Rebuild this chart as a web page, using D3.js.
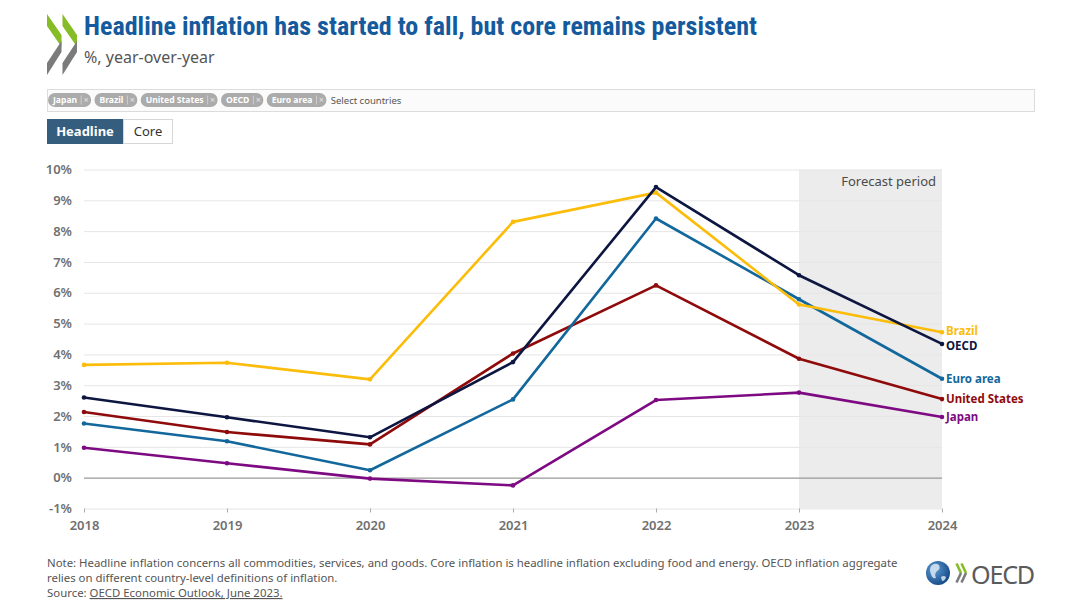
<!DOCTYPE html>
<html>
<head>
<meta charset="utf-8">
<script src="https://cdn.jsdelivr.net/npm/d3@7"></script>
<style>
  body { margin: 0; background: #fff; }
  svg { display: block; font-family: "Noto Sans", "Open Sans", sans-serif; }
</style>
</head>
<body>
<svg id="chart" width="1080" height="608"></svg>
<script>
// data
var years = [2018, 2019, 2020, 2021, 2022, 2023, 2024];
var brazil = [3.66, 3.73, 3.19, 8.30, 9.25, 5.62, 4.72];
var oecd = [2.60, 1.96, 1.31, 3.75, 9.43, 6.57, 4.34];
var euroArea = [1.76, 1.18, 0.24, 2.54, 8.41, 5.79, 3.21];
var unitedStates = [2.13, 1.48, 1.08, 4.03, 6.24, 3.86, 2.55];
var japan = [0.97, 0.47, -0.03, -0.25, 2.52, 2.76, 1.97];
var yTicks = [-1, 0, 1, 2, 3, 4, 5, 6, 7, 8, 9, 10];
var forecastStart = 2023;
var chips = ["Japan", "Brazil", "United States", "OECD", "Euro area"];

// label nudges keep Brazil and OECD end labels apart
var series = [
    {name: "Japan", values: japan, color: "#7d0a82", nudge: 0},
    {name: "United States", values: unitedStates, color: "#8f0a0a", nudge: 0},
    {name: "Euro area", values: euroArea, color: "#12679c", nudge: 0},
    {name: "Brazil", values: brazil, color: "#fbbc0a", nudge: -1.5},
    {name: "OECD", values: oecd, color: "#0d1640", nudge: 1.5}
]

var svg = d3.select("#chart");

// ---- header: logo chevrons
function chevron(x0) {
    var g = svg.append("g");
    g.append("path")
        .attr("d", `M${x0},14 L${x0 + 14.5},35 L${x0 + 14.5},47 L${x0},26 Z`)
        .attr("fill", "#86bc25");
    g.append("path")
        .attr("d", `M${x0 + 14.5},41 L${x0 + 14.5},52 L${x0},75 L${x0},63 Z`)
        .attr("fill", "#7b7b7b");
}
chevron(47);
chevron(62.5);

svg.append("text")
    .attr("x", 84).attr("y", 35)
    .style("font-family", "'Roboto', 'Noto Sans', sans-serif")
    .style("font-weight", "bold")
    .style("font-stretch", "condensed")
    .style("font-size", "26px")
    .attr("fill", "#155a9c")
    .attr("textLength", 673)
    .attr("lengthAdjust", "spacingAndGlyphs")
    .text("Headline inflation has started to fall, but core remains persistent");

svg.append("text")
    .attr("x", 84).attr("y", 63)
    .style("font-size", "16px")
    .attr("fill", "#555")
    .text("%, year-over-year");

// ---- country filter box
svg.append("rect")
    .attr("x", 47.5).attr("y", 89.5)
    .attr("width", 987).attr("height", 22)
    .attr("fill", "#fbfbfb")
    .attr("stroke", "#dcdcdc");

var cx = 48;
chips.forEach(function(c) {
    var g = svg.append("g");
    var label = g.append("text")
        .attr("x", cx + 5).attr("y", 103.3)
        .style("font-size", "8.6px")
        .style("font-weight", "bold")
        .attr("fill", "#fff")
        .text(c);
    var w = label.node().getComputedTextLength();
    g.insert("rect", "text")
        .attr("x", cx).attr("y", 93)
        .attr("width", w + 19).attr("height", 14)
        .attr("rx", 7)
        .attr("fill", "#ababab");
    g.append("line")
        .attr("x1", cx + w + 9).attr("x2", cx + w + 9)
        .attr("y1", 95.5).attr("y2", 104.5)
        .attr("stroke", "#cfcfcf");
    g.append("text")
        .attr("x", cx + w + 14).attr("y", 103.3)
        .attr("text-anchor", "middle")
        .style("font-size", "9px")
        .attr("fill", "#e4e4e4")
        .text("×");
    cx += w + 22.3;
});
svg.append("text")
    .attr("x", cx + 1).attr("y", 103.5)
    .style("font-size", "9.5px")
    .attr("fill", "#555")
    .text("Select countries");

// ---- Headline / Core toggle
svg.append("rect")
    .attr("x", 123.5).attr("y", 119.5).attr("width", 49).attr("height", 24)
    .attr("fill", "#fff").attr("stroke", "#d6d6d6");
svg.append("rect")
    .attr("x", 47).attr("y", 119).attr("width", 76).attr("height", 25)
    .attr("fill", "#355d7e");
svg.append("text")
    .attr("x", 85).attr("y", 136).attr("text-anchor", "middle")
    .style("font-size", "13px").style("font-weight", "bold")
    .attr("fill", "#fff").text("Headline");
svg.append("text")
    .attr("x", 148).attr("y", 136).attr("text-anchor", "middle")
    .style("font-size", "13px")
    .attr("fill", "#333").text("Core");

// ---- chart
var x = d3.scaleLinear().domain([2018, 2024]).range([84, 942]);
var y = d3.scaleLinear().domain([-1, 10]).range([508.5, 169.5]);

svg.append("rect")
    .attr("x", x(forecastStart)).attr("y", y(10))
    .attr("width", x(2024) - x(forecastStart))
    .attr("height", y(-1) - y(10))
    .attr("fill", "#ececec");

svg.append("text")
    .attr("x", x(2024) - 6).attr("y", y(10) + 16)
    .attr("text-anchor", "end")
    .style("font-size", "13px")
    .attr("fill", "#4a4a4a")
    .text("Forecast period");

var yAxis = svg.append("g")
    .attr("transform", `translate(${x(2018)},0)`)
    .call(d3.axisLeft(y).tickValues(yTicks).tickSize(-(x(2024) - x(2018)))
        .tickFormat(d => d + "%").tickPadding(12));
yAxis.select(".domain").remove();
yAxis.selectAll(".tick line")
    .attr("stroke", d => d == 0 ? "#999" : "#e6e6e6")
    .attr("stroke-width", d => d == 0 ? 1.2 : 1);
yAxis.selectAll(".tick text")
    .style("font-family", "'Noto Sans', sans-serif")
    .style("font-size", "13px")
    .style("font-weight", "600")
    .attr("fill", "#707070");

var xAxis = svg.append("g")
    .attr("transform", `translate(0,${y(-1)})`)
    .call(d3.axisBottom(x).tickValues(years).tickFormat(d3.format("d")).tickSize(4).tickPadding(8));
xAxis.select(".domain").remove();
xAxis.selectAll(".tick line").attr("stroke", "#aaa");
xAxis.selectAll(".tick text")
    .style("font-family", "'Noto Sans', sans-serif")
    .style("font-size", "13px")
    .style("font-weight", "600")
    .attr("fill", "#707070");

var line = d3.line()
    .x((d, i) => x(years[i]))
    .y(d => y(d));

series.forEach(function(s) {
    svg.append("path")
        .datum(s.values)
        .attr("d", line)
        .attr("fill", "none")
        .attr("stroke", s.color)
        .attr("stroke-width", 2.6)
        .attr("stroke-linejoin", "round");
    svg.selectAll(null)
        .data(s.values)
        .enter()
        .append("circle")
        .attr("cx", (d, i) => x(years[i]))
        .attr("cy", d => y(d))
        .attr("r", 2.3)
        .attr("fill", s.color);
    svg.append("text")
        .attr("x", x(2024) + 4)
        .attr("y", y(s.values[s.values.length - 1]) + 4.2 + s.nudge)
        .style("font-size", "11.5px")
        .style("font-weight", "bold")
        .attr("fill", s.color)
        .text(s.name);
});

// ---- footer
var notes = [
    "Note: Headline inflation concerns all commodities, services, and goods. Core inflation is headline inflation excluding food and energy. OECD inflation aggregate",
    "relies on different country-level definitions of inflation."
];
notes.forEach(function(t, i) {
    svg.append("text")
        .attr("x", 47).attr("y", 567 + i * 15)
        .style("font-size", "11.4px")
        .attr("fill", "#555")
        .text(t);
});
var src = svg.append("text")
    .attr("x", 47).attr("y", 597)
    .style("font-size", "11.4px")
    .attr("fill", "#555");
src.append("tspan").text("Source: ");
src.append("tspan").style("text-decoration", "underline").text("OECD Economic Outlook, June 2023.");

// ---- OECD logo bottom right
var grad = svg.append("defs").append("radialGradient").attr("id", "globe")
    .attr("cx", "35%").attr("cy", "35%").attr("r", "70%");
grad.append("stop").attr("offset", "0%").attr("stop-color", "#5d9bd3");
grad.append("stop").attr("offset", "100%").attr("stop-color", "#154a87");
svg.append("circle").attr("cx", 938).attr("cy", 573).attr("r", 12).attr("fill", "url(#globe)");
svg.append("path")
    .attr("d", "M931,566 q4,-4 8,-1 q2,4 -2,6 q-3,3 -1,7 q-4,1 -5,-4 q-2,-4 0,-8 Z M941,577 q3,-2 5,0 q-1,4 -4,4 Z")
    .attr("fill", "#dce8f3").attr("opacity", 0.85);
[956.5, 961.5].forEach(function(x0) {
    svg.append("path")
        .attr("d", `M${x0},563.5 L${x0 + 4.5},573`)
        .attr("stroke", "#86bc25").attr("stroke-width", 2.6).attr("fill", "none");
    svg.append("path")
        .attr("d", `M${x0 + 4.5},573 L${x0},582.5`)
        .attr("stroke", "#7b7b7b").attr("stroke-width", 2.6).attr("fill", "none");
});
svg.append("text")
    .attr("x", 971).attr("y", 583.5)
    .style("font-size", "24.5px")
    .style("letter-spacing", "-1.2px")
    .attr("fill", "#5b5b5b")
    .attr("textLength", 63)
    .attr("lengthAdjust", "spacingAndGlyphs")
    .text("OECD");
</script>
</body>
</html>
